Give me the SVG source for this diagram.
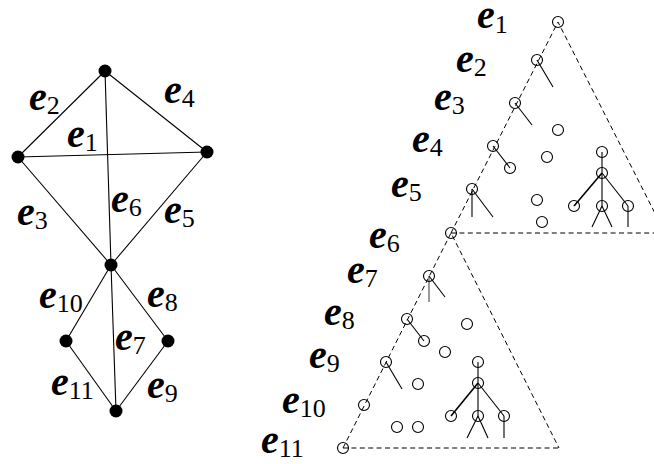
<svg xmlns="http://www.w3.org/2000/svg" width="654" height="464" viewBox="0 0 654 464">
<style>
.edge{stroke:#000;stroke-width:1.1;fill:none}
.node{fill:#000}
.lbl{font-family:"Liberation Serif","Times New Roman",serif;fill:#000}
.e{font-size:40px;font-weight:bold;font-style:italic}
.s{font-size:26px;font-weight:normal;font-style:normal}
.dash{stroke:#000;stroke-width:1;fill:none;stroke-dasharray:5 3.4}
.c{fill:none;stroke:#000;stroke-width:1.1}
.t{stroke:#000;stroke-width:1.1;fill:none}
.tb{stroke:#000;stroke-width:1.6;fill:none}
.tg{stroke:#808080;stroke-width:1.6;fill:none}
</style>
<rect width="654" height="464" fill="#fff"/>
<g id="connectors">
<line class="edge" x1="105" y1="71" x2="18" y2="157"/>
<line class="edge" x1="105" y1="71" x2="207" y2="152"/>
<line class="edge" x1="18" y1="157" x2="207" y2="152"/>
<line class="edge" x1="105" y1="71" x2="111" y2="265"/>
<line class="edge" x1="18" y1="157" x2="111" y2="265"/>
<line class="edge" x1="207" y1="152" x2="111" y2="265"/>
<line class="edge" x1="111" y1="265" x2="66" y2="341"/>
<line class="edge" x1="111" y1="265" x2="168" y2="341"/>
<line class="edge" x1="111" y1="265" x2="116" y2="411"/>
<line class="edge" x1="66" y1="341" x2="116" y2="411"/>
<line class="edge" x1="168" y1="341" x2="116" y2="411"/>
</g>
<g id="n-top"><circle class="node" cx="105" cy="71" r="6.5"/></g>
<g id="n-left"><circle class="node" cx="18" cy="157" r="6.5"/></g>
<g id="n-right"><circle class="node" cx="207" cy="152" r="6.5"/></g>
<g id="n-mid"><circle class="node" cx="111" cy="265" r="6.5"/></g>
<g id="n-lowleft"><circle class="node" cx="66" cy="341" r="6.5"/></g>
<g id="n-lowright"><circle class="node" cx="168" cy="341" r="6.5"/></g>
<g id="n-bottom"><circle class="node" cx="116" cy="411" r="6.5"/></g>
<g id="edge-labels" class="lbl">
<text x="29" y="110"><tspan class="e">e</tspan><tspan class="s" dy="4">2</tspan></text>
<text x="67" y="147"><tspan class="e">e</tspan><tspan class="s" dy="4">1</tspan></text>
<text x="164" y="103"><tspan class="e">e</tspan><tspan class="s" dy="4">4</tspan></text>
<text x="17" y="225"><tspan class="e">e</tspan><tspan class="s" dy="4">3</tspan></text>
<text x="111" y="212"><tspan class="e">e</tspan><tspan class="s" dy="4">6</tspan></text>
<text x="164" y="223"><tspan class="e">e</tspan><tspan class="s" dy="4">5</tspan></text>
<text x="39" y="308"><tspan class="e">e</tspan><tspan class="s" dy="4">10</tspan></text>
<text x="147" y="307"><tspan class="e">e</tspan><tspan class="s" dy="4">8</tspan></text>
<text x="115" y="350"><tspan class="e">e</tspan><tspan class="s" dy="4">7</tspan></text>
<text x="51" y="395"><tspan class="e">e</tspan><tspan class="s" dy="4">11</tspan></text>
<text x="147" y="398"><tspan class="e">e</tspan><tspan class="s" dy="4">9</tspan></text>
</g>
<g id="seq-labels" class="lbl">
<text x="477" y="28"><tspan class="e">e</tspan><tspan class="s" dy="5">1</tspan></text>
<text x="456" y="72"><tspan class="e">e</tspan><tspan class="s" dy="4">2</tspan></text>
<text x="434" y="110"><tspan class="e">e</tspan><tspan class="s" dy="4">3</tspan></text>
<text x="412" y="152"><tspan class="e">e</tspan><tspan class="s" dy="4">4</tspan></text>
<text x="391" y="197"><tspan class="e">e</tspan><tspan class="s" dy="4">5</tspan></text>
<text x="369" y="248"><tspan class="e">e</tspan><tspan class="s" dy="4">6</tspan></text>
<text x="347" y="283"><tspan class="e">e</tspan><tspan class="s" dy="4">7</tspan></text>
<text x="324" y="325"><tspan class="e">e</tspan><tspan class="s" dy="4">8</tspan></text>
<text x="309" y="368"><tspan class="e">e</tspan><tspan class="s" dy="4">9</tspan></text>
<text x="282" y="413"><tspan class="e">e</tspan><tspan class="s" dy="4">10</tspan></text>
<text x="261" y="453"><tspan class="e">e</tspan><tspan class="s" dy="4">11</tspan></text>
</g>
<g id="tri-upper">
<polyline class="dash" points="451,233 558,22 665,233"/>
<line class="dash" x1="451" y1="233" x2="665" y2="233"/>
</g>
<g id="tri-upper-links">
<line class="t" x1="537" y1="60" x2="553" y2="87"/>
<line class="t" x1="515" y1="103" x2="532" y2="125"/>
<line class="t" x1="493" y1="146" x2="510" y2="168"/>
<line class="t" x1="472" y1="189" x2="472" y2="217"/>
<line class="t" x1="472" y1="189" x2="493" y2="217"/>
<line class="t" x1="602" y1="152" x2="602" y2="206"/>
<line class="tb" x1="602" y1="173" x2="574" y2="206"/>
<line class="t" x1="602" y1="173" x2="628" y2="206"/>
<line class="t" x1="602" y1="206" x2="592" y2="227"/>
<line class="t" x1="602" y1="206" x2="612" y2="227"/>
<line class="t" x1="628" y1="206" x2="628" y2="227"/>
</g>
<g id="tri-upper-nodes">
<circle class="c" cx="558" cy="22" r="5.5"/>
<circle class="c" cx="537" cy="60" r="5.5"/>
<circle class="c" cx="515" cy="103" r="5.5"/>
<circle class="c" cx="493" cy="146" r="5.5"/>
<circle class="c" cx="510" cy="168" r="5.5"/>
<circle class="c" cx="472" cy="189" r="5.5"/>
<circle class="c" cx="558" cy="130" r="5.5"/>
<circle class="c" cx="547" cy="157" r="5.5"/>
<circle class="c" cx="537" cy="200" r="5.5"/>
<circle class="c" cx="542" cy="222" r="5.5"/>
<circle class="c" cx="602" cy="152" r="5.5"/>
<circle class="c" cx="602" cy="173" r="5.5"/>
<circle class="c" cx="574" cy="206" r="5.5"/>
<circle class="c" cx="602" cy="206" r="5.5"/>
<circle class="c" cx="628" cy="206" r="5.5"/>
</g>
<g id="tri-lower">
<polyline class="dash" points="343,448 451,233 559,448"/>
<line class="dash" x1="343" y1="448" x2="559" y2="448"/>
</g>
<g id="tri-lower-links">
<line class="tg" x1="429" y1="276" x2="429" y2="302"/>
<line class="t" x1="429" y1="276" x2="445" y2="297"/>
<line class="t" x1="407" y1="319" x2="424" y2="341"/>
<line class="t" x1="386" y1="362" x2="402" y2="389"/>
<line class="t" x1="478" y1="362" x2="478" y2="416"/>
<line class="tb" x1="478" y1="383" x2="451" y2="416"/>
<line class="t" x1="478" y1="383" x2="504" y2="416"/>
<line class="t" x1="478" y1="416" x2="467" y2="438"/>
<line class="t" x1="478" y1="416" x2="488" y2="438"/>
<line class="t" x1="504" y1="416" x2="504" y2="438"/>
</g>
<g id="tri-lower-nodes">
<circle class="c" cx="451" cy="233" r="5.5"/>
<circle class="c" cx="429" cy="276" r="5.5"/>
<circle class="c" cx="407" cy="319" r="5.5"/>
<circle class="c" cx="424" cy="341" r="5.5"/>
<circle class="c" cx="467" cy="324" r="5.5"/>
<circle class="c" cx="445" cy="352" r="5.5"/>
<circle class="c" cx="386" cy="362" r="5.5"/>
<circle class="c" cx="418" cy="384" r="5.5"/>
<circle class="c" cx="364" cy="405" r="5.5"/>
<circle class="c" cx="397" cy="427" r="5.5"/>
<circle class="c" cx="418" cy="427" r="5.5"/>
<circle class="c" cx="343" cy="448" r="5.5"/>
<circle class="c" cx="478" cy="362" r="5.5"/>
<circle class="c" cx="478" cy="383" r="5.5"/>
<circle class="c" cx="451" cy="416" r="5.5"/>
<circle class="c" cx="478" cy="416" r="5.5"/>
<circle class="c" cx="504" cy="416" r="5.5"/>
</g>
</svg>
